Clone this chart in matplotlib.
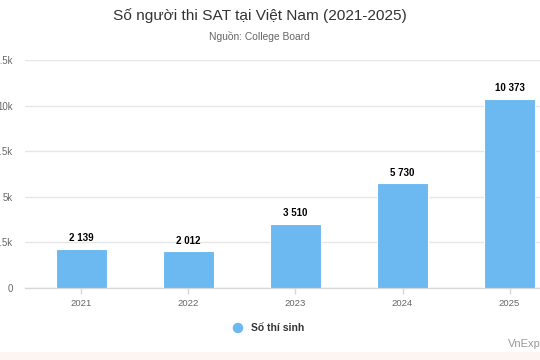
import matplotlib
matplotlib.use("Agg")
import matplotlib.pyplot as plt
from matplotlib.patches import Rectangle, Ellipse

years = ["2021", "2022", "2023", "2024", "2025"]
values = [2139, 2012, 3510, 5730, 10373]
y_ticks = [0, 2500, 5000, 7500, 10000, 12500]
y_tick_labels = ["0", "2.5k", "5k", "7.5k", "10k", "12.5k"]
title = "Số người thi SAT tại Việt Nam (2021-2025)"
subtitle = "Nguồn: College Board"
series_name = "Số thí sinh"
credit = "VnExpress"

plt.rcParams['font.family'] = ['Liberation Sans', 'DejaVu Sans']

W, H = 540, 360
fig = plt.figure(figsize=(W / 100, H / 100), dpi=100)
fig.patch.set_facecolor("white")

# bottom pink strip
fig.patches.append(Rectangle((0, 0), 1, 8 / H, transform=fig.transFigure,
                             facecolor="#fdf5f1", edgecolor="none", zorder=0))

left_px, right_px = 25, 565
top_px, bottom_px = 60, 288
ax = fig.add_axes([left_px / W, 1 - bottom_px / H,
                   (right_px - left_px) / W, (bottom_px - top_px) / H])
ax.set_facecolor("white")

color = "#6cb8f1"
x = list(range(len(years)))
ax.bar(x, values, width=0.475, color=color, edgecolor="white",
       linewidth=0.8, zorder=3)

cat_w = 107.3
ax.set_xlim(-0.5 - 3 / cat_w, len(years) - 0.5 + 2 / cat_w)
ax.set_ylim(0, 12500)

ax.set_yticks(y_ticks)
ax.set_yticklabels(y_tick_labels)
ax.grid(axis="y", color="#e6e6e6", linewidth=1, zorder=0)
ax.set_axisbelow(True)

for s in ["top", "right", "left"]:
    ax.spines[s].set_visible(False)
ax.spines["bottom"].set_color("#d8d8d8")
ax.spines["bottom"].set_linewidth(1)

ax.set_xticks(x)
ax.set_xticklabels(years)
ax.tick_params(axis="x", colors="#d8d8d8", length=4, width=1, pad=4,
               labelcolor="#666666", labelsize=6.8)
ax.tick_params(axis="y", length=0, pad=9.0, labelcolor="#666666",
               labelsize=6.9)

for xi, v in zip(x, values):
    label = f"{v:,}".replace(",", " ")
    ax.annotate(label, (xi, v), xytext=(0, 4), textcoords="offset points",
                ha="center", va="bottom", fontsize=7, fontweight="bold",
                color="#000000", zorder=4)

fig.text(260 / W, 1 - 16 / H, title, ha="center", va="center",
         fontsize=11.1, color="#333333")
fig.text(259 / W, 1 - 37 / H, subtitle, ha="center", va="center",
         fontsize=7.4, color="#666666")

# legend
fig.patches.append(Ellipse((238 / W, 1 - 328 / H), 10.5 / W, 10.5 / H,
                           transform=fig.transFigure, facecolor=color,
                           edgecolor="none"))
fig.text(251 / W, 1 - 328 / H, series_name, ha="left", va="center",
         fontsize=7.5, fontweight="bold", color="#333333")

fig.text(508 / W, 1 - 344 / H, credit, ha="left", va="center",
         fontsize=8, color="#999999")

fig.savefig("out.png", dpi=100, facecolor=fig.get_facecolor())
